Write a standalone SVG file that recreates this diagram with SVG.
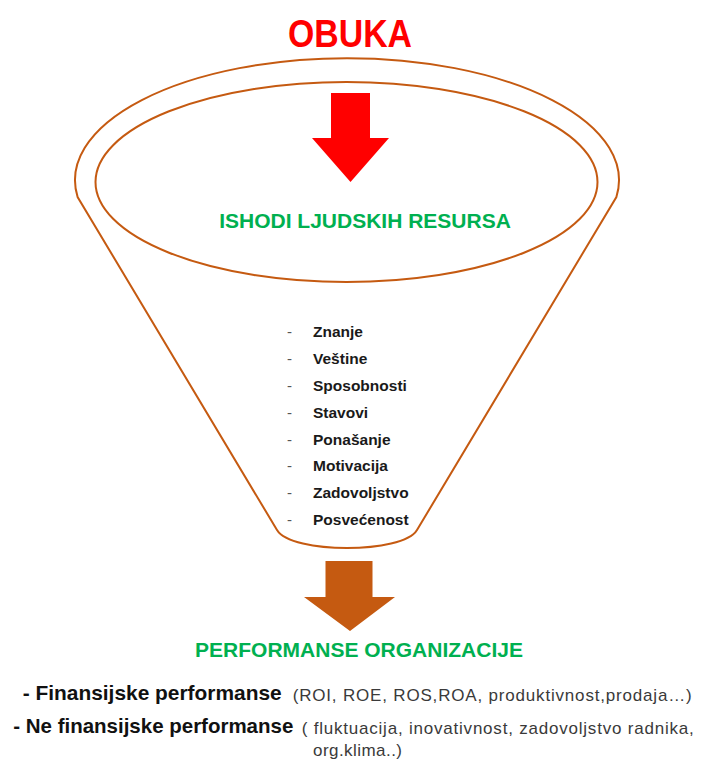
<svg xmlns="http://www.w3.org/2000/svg" width="704" height="764" viewBox="0 0 704 764">
  <style>
    .outline { fill: none; stroke: #c55a11; stroke-width: 2; }
    .title { font-family: "Liberation Sans", Arial, sans-serif; font-weight: bold; fill: #ff0000; }
    .head { font-family: "Liberation Sans", Arial, sans-serif; font-weight: bold; font-size: 21px; fill: #00b050; text-anchor: middle; }
    .item { font-family: "Liberation Sans", Arial, sans-serif; font-weight: bold; font-size: 15.5px; fill: #1a1a1a; }
    .dash { font-family: "Liberation Sans", Arial, sans-serif; font-size: 15px; fill: #555555; }
    .strong { font-family: "Liberation Sans", Arial, sans-serif; font-weight: bold; font-size: 21px; fill: #111111; }
    .note { font-family: "Liberation Sans", Arial, sans-serif; font-size: 17px; fill: #3a3a3a; }
  </style>
  <rect width="704" height="764" fill="#ffffff"/>

  <!-- Training input label -->
  <g id="obuka">
    <text class="title" x="288" y="47" font-size="38" textLength="124" lengthAdjust="spacingAndGlyphs">OBUKA</text>
  </g>

  <!-- Funnel body: rim ellipse arc with tapering sides and rounded spout -->
  <g id="funnel">
    <path class="outline" d="M 77.6 197 A 272 122 0 1 1 616.4 197 L 417 530 C 402.6 554 291.4 554 277 530 Z"/>
    <ellipse class="outline" cx="346.5" cy="182" rx="251" ry="100"/>
  </g>

  <!-- Human resource outcomes -->
  <g id="ishodi">
    <text class="head" x="365" y="228">ISHODI LJUDSKIH RESURSA</text>
    <g id="ishodi-lista">
      <text class="dash" x="287" y="337">-</text>
      <text class="item" x="313" y="337">Znanje</text>
      <text class="dash" x="287" y="364">-</text>
      <text class="item" x="313" y="364">Veštine</text>
      <text class="dash" x="287" y="391">-</text>
      <text class="item" x="313" y="391">Sposobnosti</text>
      <text class="dash" x="287" y="417.5">-</text>
      <text class="item" x="313" y="417.5">Stavovi</text>
      <text class="dash" x="287" y="444.5">-</text>
      <text class="item" x="313" y="444.5">Ponašanje</text>
      <text class="dash" x="287" y="471">-</text>
      <text class="item" x="313" y="471">Motivacija</text>
      <text class="dash" x="287" y="498">-</text>
      <text class="item" x="313" y="498">Zadovoljstvo</text>
      <text class="dash" x="287" y="524.5">-</text>
      <text class="item" x="313" y="524.5">Posvećenost</text>
    </g>
  </g>

  <!-- Organisational performance -->
  <g id="performanse">
    <text class="head" x="359" y="657">PERFORMANSE ORGANIZACIJE</text>
    <text class="strong" x="22.7" y="700" textLength="259" lengthAdjust="spacingAndGlyphs">- Finansijske performanse</text>
    <text class="note" x="292.7" y="701" textLength="399">(ROI, ROE, ROS,ROA, produktivnost,prodaja…)</text>
    <text class="strong" x="13.3" y="733" textLength="280" lengthAdjust="spacingAndGlyphs">- Ne finansijske performanse</text>
    <text class="note" x="301.7" y="734" textLength="392">( fluktuacija, inovativnost, zadovoljstvo radnika,</text>
    <text class="note" x="313" y="756" textLength="89">org.klima..)</text>
  </g>

  <!-- Flow arrows -->
  <g id="connectors">
    <polygon fill="#ff0000" points="331,93 370,93 370,138 389,138 350.5,182 312,138 331,138"/>
    <polygon fill="#c55a11" points="325.5,561 372.5,561 372.5,597 395,597 350,631 304,597 325.5,597"/>
  </g>
</svg>
